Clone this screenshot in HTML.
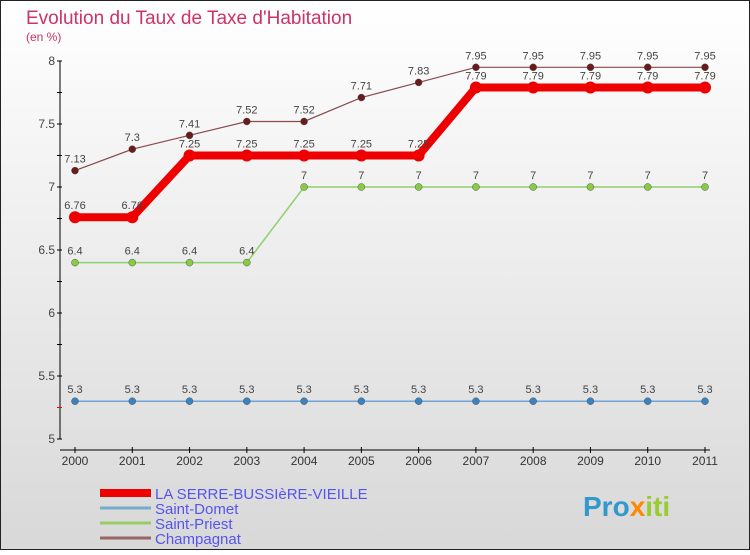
<!DOCTYPE html>
<html><head><meta charset="utf-8"><style>
body{margin:0;width:750px;height:550px;overflow:hidden;font-family:"Liberation Sans",sans-serif}
</style></head><body>
<svg width="750" height="550" xmlns="http://www.w3.org/2000/svg">
<defs><linearGradient id="bg" x1="0" y1="0" x2="0" y2="1"><stop offset="0" stop-color="#ffffff"/><stop offset="1" stop-color="#d8d8d8"/></linearGradient></defs>
<rect x="0.5" y="0.5" width="749" height="549" fill="url(#bg)" stroke="#222"/>
<text x="26" y="24" font-size="19" fill="#cc3366">Evolution du Taux de Taxe d'Habitation</text>
<text x="26" y="41" font-size="12" fill="#cc3366">(en %)</text>
<g id="axes"></g>
<g id="series"></g>
<g id="legend"></g>
<text x="583" y="516" font-size="28" font-weight="bold" fill="#3399cc">Pro<tspan fill="#ff8800">x</tspan><tspan fill="#99cc33">iti</tspan></text>
</svg>
<script>
const years=[2000,2001,2002,2003,2004,2005,2006,2007,2008,2009,2010,2011];
const yTicks=[5,5.5,6,6.5,7,7.5,8];
const serre=[6.76,6.76,7.25,7.25,7.25,7.25,7.25,7.79,7.79,7.79,7.79,7.79];
const domet=[5.3,5.3,5.3,5.3,5.3,5.3,5.3,5.3,5.3,5.3,5.3,5.3];
const priest=[6.4,6.4,6.4,6.4,7,7,7,7,7,7,7,7];
const champ=[7.13,7.3,7.41,7.52,7.52,7.71,7.83,7.95,7.95,7.95,7.95,7.95];
const names=["LA SERRE-BUSSIèRE-VIEILLE","Saint-Domet","Saint-Priest","Champagnat"];
const NS="http://www.w3.org/2000/svg";
function X(i){return 75+i*(630/(years.length-1));}
function Y(v){return 439-(v-5)*126;}
function mk(tag,at,parent){const e=document.createElementNS(NS,tag);for(const k in at)e.setAttribute(k,at[k]);parent.appendChild(e);return e;}
const ax=document.getElementById('axes');
let l=mk('line',{x1:60,y1:Y(8),x2:60,y2:Y(5),stroke:'#000'},ax);


l=mk('line',{x1:60,y1:450,x2:710,y2:450,stroke:'#000'},ax);


for(let v=5;v<=8.001;v+=0.25){const t=mk('line',{x1:57,y1:Y(v),x2:62,y2:Y(v),stroke:(Math.abs(v-5.25)<0.01?'#f00':'#000')},ax);

}
yTicks.forEach(v=>{const t=mk('text',{x:55,y:Y(v)+4,'font-size':12,fill:'#444','text-anchor':'end'},ax);t.textContent=v;

});
years.forEach((y,i)=>{const t=mk('line',{x1:X(i),y1:447,x2:X(i),y2:453,stroke:'#000'},ax);


const tx=mk('text',{x:X(i),y:465,'font-size':12,fill:'#333','text-anchor':'middle'},ax);tx.textContent=y;

});
const sg=document.getElementById('series');
function draw(data,color,w,r,dot,name){
const g=mk('g',{},sg);


const p=mk('polyline',{points:data.map((v,i)=>X(i)+','+Y(v)).join(' '),fill:'none',stroke:color,'stroke-width':w},g);


data.forEach((v,i)=>{const c=mk('circle',{cx:X(i),cy:Y(v),r:r,fill:dot,stroke:color==='#ee0000'?'none':'#555','stroke-width':0.5},g);


const t=mk('text',{x:X(i),y:Y(v)-8,'font-size':11,fill:'#444','text-anchor':'middle'},g);t.textContent=v;

});}
draw(domet,'#4a90d0',1.2,3.5,'#3a82c0','saint-domet');
draw(priest,'#8fd16a',1.5,3.5,'#88cc44','saint-priest');
draw(champ,'#8b4a4a',1.2,3.5,'#6a1a1a','champagnat');
draw(serre,'#ee0000',8,6,'#ee0000','la-serre');
const lg=document.getElementById('legend');
const cols=['#ee0000','#77aacc','#99cc66','#996666'],ws=[8,3,3,3];
names.forEach((n,i)=>{const y=493+i*15;
const ln=mk('line',{x1:100,y1:y,x2:151,y2:y,stroke:cols[i],'stroke-width':ws[i]},lg);


const t=mk('text',{x:155,y:y+6,'font-size':15,fill:'#5555ee'},lg);t.textContent=n;

});
</script>
</body></html>
